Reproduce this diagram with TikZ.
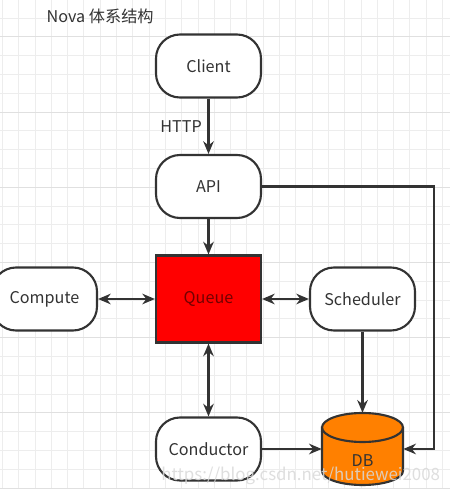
\documentclass[tikz,border=0pt]{standalone}
\usepackage{fontspec}
\setmainfont{Noto Sans CJK SC}
\usepackage{tikz}
\usetikzlibrary{arrows.meta}
\usetikzlibrary{shapes,positioning}
\definecolor{ink}{HTML}{333333}
\definecolor{queuered}{HTML}{FF0000}
\definecolor{dborange}{HTML}{FF8000}
\tikzset{>={Stealth[length=9pt,width=7.5pt]},
  box/.style={draw=ink,line width=1.5pt,rounded corners=24*0.025cm,fill=white,
    minimum width=105*0.025cm,minimum height=63*0.025cm,text=ink,
    font=\fontsize{11.5}{13}\selectfont},
  queuebox/.style={draw=ink,line width=1.5pt,fill=queuered,text=red!45!black,
    minimum width=105*0.025cm,minimum height=87*0.025cm,
    font=\fontsize{11.5}{13}\selectfont},
  conn/.style={draw=ink,line width=1.5pt},
  lbl/.style={text=ink,font=\fontsize{11.5}{13}\selectfont,inner sep=1pt}}

\begin{document}
\begin{tikzpicture}[x=0.025cm,y=0.025cm]
  \useasboundingbox (0,0) rectangle (453,494);
  \fill[white] (0,0) rectangle (453,494);

  % grid
  \foreach \i in {0,...,27}
    \draw[gray!14,line width=0.5pt] (2.3+16.3*\i,6) -- (2.3+16.3*\i,494);
  \foreach \j in {0,...,26}
    \draw[gray!14,line width=0.5pt] (0,6+18.8*\j) -- (450,6+18.8*\j);
  \foreach \j in {0,4,...,24}
    \draw[gray!24,line width=0.5pt] (0,6+18.8*\j) -- (450,6+18.8*\j);

  \node [lbl,anchor=west] (title) at (45,478) {Nova 体系结构};

  \node [box] (client) at (208.5,428) {Client};
  \node [box] (api) at (208.5,307.5) {API};
  \node [queuebox] (queue) at (208.5,195) {Queue};
  \node [box] (compute) at (44.5,195) {Compute};
  \node [box] (scheduler) at (362.5,195) {Scheduler};
  \node [box] (conductor) at (208.5,45) {Conductor};
  \node [minimum width=81*0.025cm,minimum height=72*0.025cm,inner sep=0pt] (db) at (362.5,45) {};
  \coordinate (turn) at (434,45);

  % DB cylinder
  \filldraw [fill=dborange,draw=ink,line width=1.5pt] (322,66.5) -- (322,23)
    arc[start angle=180,end angle=360,x radius=40.5,y radius=14] -- (403,66.5)
    arc[start angle=0,end angle=180,x radius=40.5,y radius=14.5] -- cycle;
  \draw [ink,line width=1.5pt] (322,66.5) arc[start angle=180,end angle=360,x radius=40.5,y radius=14.5];
  \node [lbl] (dblabel) at (362.5,33) {DB};

  \draw [conn,->] (client) -- node [lbl,left=3pt] {HTTP} (api);
  \draw [conn,->] (api) -- (queue);
  \draw [conn,<->] (queue) -- (compute);
  \draw [conn,<->] (queue) -- (scheduler);
  \draw [conn,<->] (queue) -- (conductor);
  \draw [conn,->] (scheduler) -- (db);
  \draw [conn,->] (conductor) -- (db);
  \draw [conn,->] (api) -| (turn) -- (db);

  \node [text=gray!30,text opacity=0.85,font=\fontsize{12}{14}\selectfont,anchor=east] (mark) at (445,18) {https://blog.csdn.net/hutiewei2008};
\end{tikzpicture}
\end{document}
